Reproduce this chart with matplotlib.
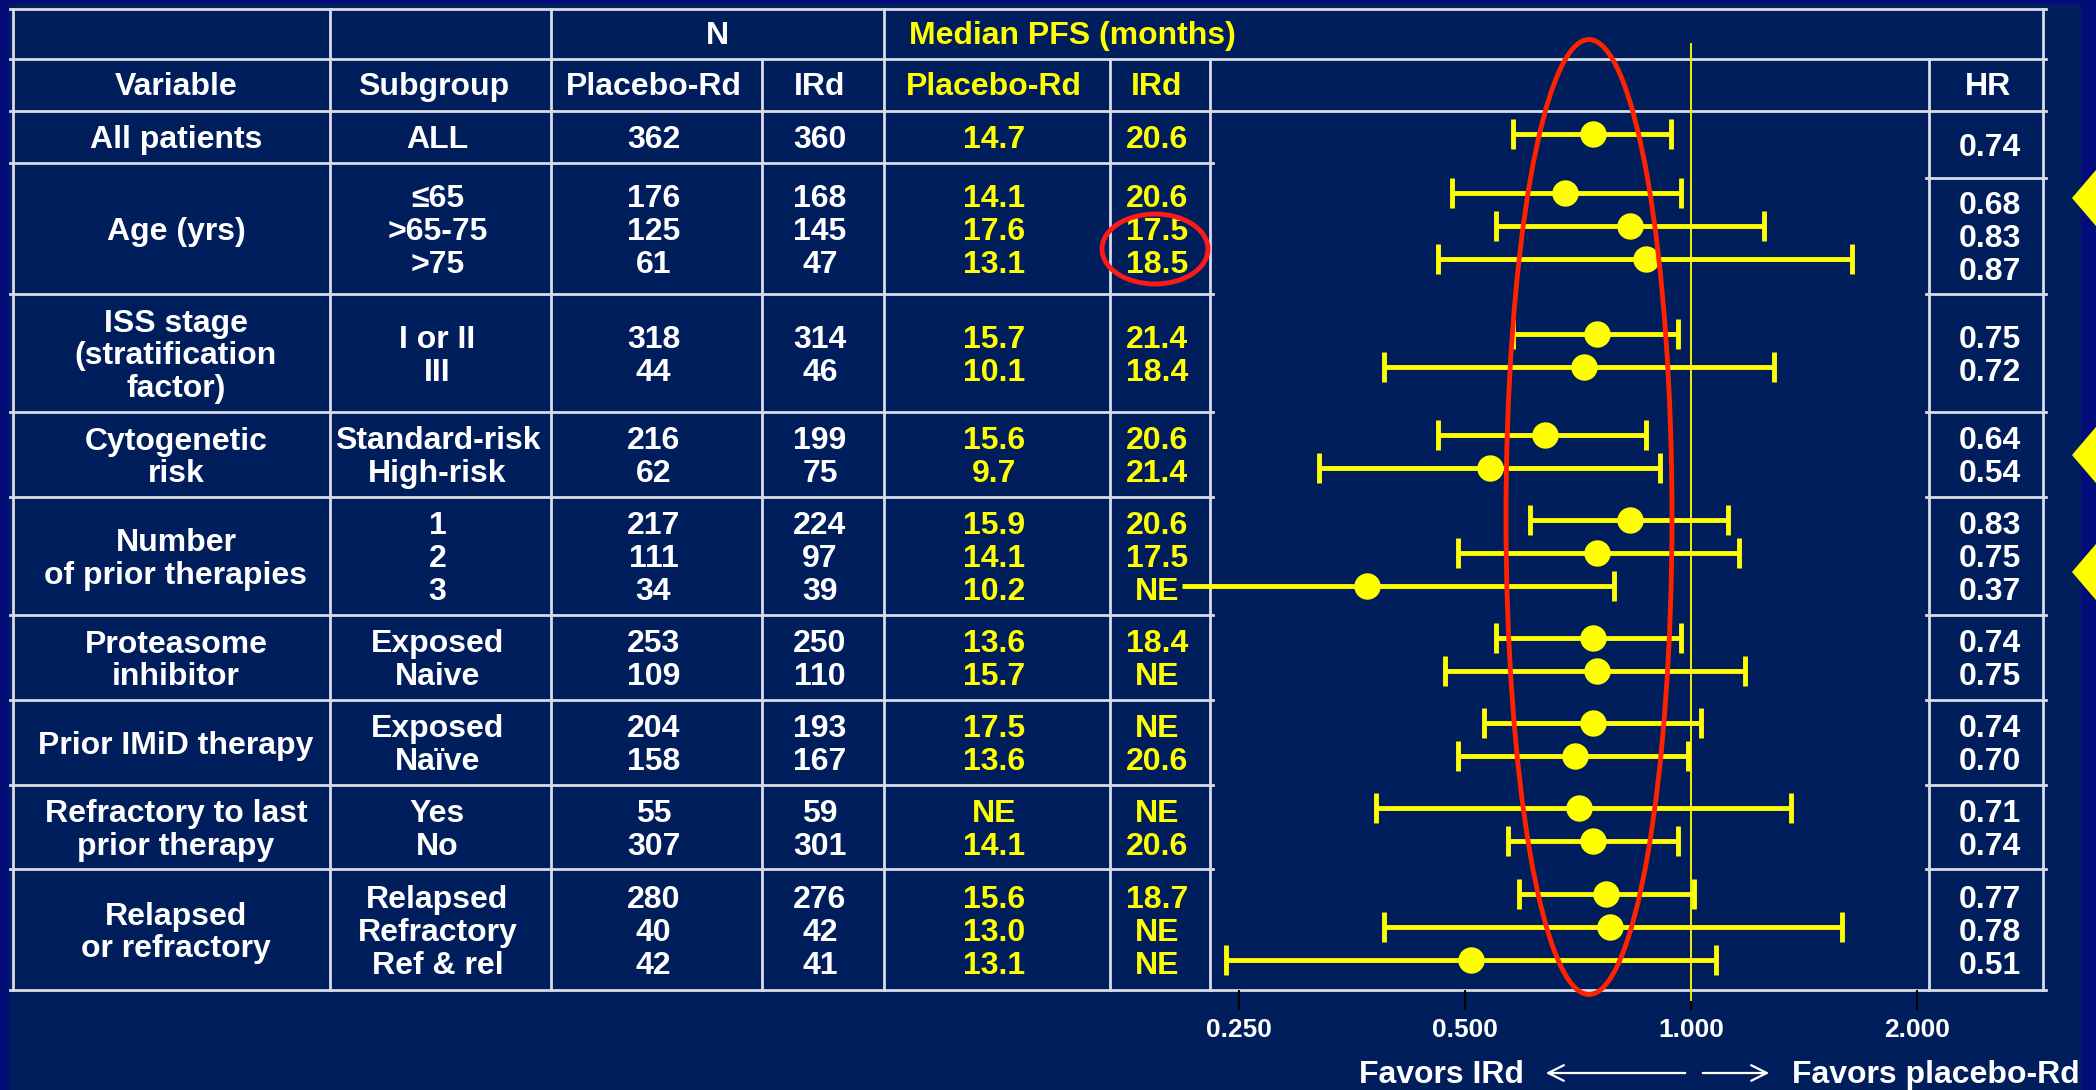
import numpy as np
import matplotlib
matplotlib.use("Agg")
import matplotlib.pyplot as plt
from matplotlib.patches import Rectangle, Ellipse, Polygon

plt.rcParams['font.family'] = ['Liberation Sans', 'DejaVu Sans']
plt.rcParams['font.weight'] = 'bold'

# subgroup table: one entry per variable, one inner item per subgroup row
variables = ['All patients', 'Age (yrs)', 'ISS stage\n(stratification\nfactor)',
             'Cytogenetic\nrisk', 'Number\nof prior therapies', 'Proteasome\ninhibitor',
             'Prior IMiD therapy', 'Refractory to last\nprior therapy', 'Relapsed\nor refractory']
subgroups = [['ALL'], ['≤65', '>65-75', '>75'], ['I or II', 'III'],
             ['Standard-risk', 'High-risk'], ['1', '2', '3'], ['Exposed', 'Naive'],
             ['Exposed', 'Naïve'], ['Yes', 'No'], ['Relapsed', 'Refractory', 'Ref & rel']]
n_placebo = [[362], [176, 125, 61], [318, 44], [216, 62], [217, 111, 34],
             [253, 109], [204, 158], [55, 307], [280, 40, 42]]
n_ird = [[360], [168, 145, 47], [314, 46], [199, 75], [224, 97, 39],
         [250, 110], [193, 167], [59, 301], [276, 42, 41]]
pfs_placebo = [['14.7'], ['14.1', '17.6', '13.1'], ['15.7', '10.1'], ['15.6', '9.7'],
               ['15.9', '14.1', '10.2'], ['13.6', '15.7'], ['17.5', '13.6'],
               ['NE', '14.1'], ['15.6', '13.0', '13.1']]
pfs_ird = [['20.6'], ['20.6', '17.5', '18.5'], ['21.4', '18.4'], ['20.6', '21.4'],
           ['20.6', '17.5', 'NE'], ['18.4', 'NE'], ['NE', '20.6'], ['NE', '20.6'],
           ['18.7', 'NE', 'NE']]
hr = [[0.74], [0.68, 0.83, 0.87], [0.75, 0.72], [0.64, 0.54], [0.83, 0.75, 0.37],
      [0.74, 0.75], [0.74, 0.70], [0.71, 0.74], [0.77, 0.78, 0.51]]
ci_low = [[0.58], [0.48, 0.55, 0.46], [0.58, 0.39], [0.46, 0.32], [0.61, 0.49, 0.21],
          [0.55, 0.47], [0.53, 0.49], [0.38, 0.57], [0.59, 0.39, 0.24]]
ci_high = [[0.94], [0.97, 1.25, 1.64], [0.96, 1.29], [0.87, 0.91], [1.12, 1.16, 0.79],
           [0.97, 1.18], [1.03, 0.99], [1.36, 0.96], [1.01, 1.59, 1.08]]
# lower limit not reached (no cap drawn)
open_low = [(4, 2)]
hr_ticks = [0.25, 0.5, 1.0, 2.0]
tick_labels = ['0.250', '0.500', '1.000', '2.000']

W, H = 2096, 1090
NAVY = '#020c7a'
PANEL = '#001e5b'
GRID = '#d9dbe6'
YEL = '#ffff00'
FS = 23

col_x = [13, 330, 551, 762, 884, 1110, 1210, 1929, 2043]
row_lines = [111, 163, 294, 412, 497, 615, 700, 785, 869, 990]
hr_lines = [111, 178, 294, 412, 497, 615, 700, 785, 869, 990]
step = 33
x0, px_per_doubling = 1691, 226

fig = plt.figure(figsize=(W / 100, H / 100), dpi=100, facecolor=NAVY)
ax = fig.add_axes([0, 0, 1, 1])
ax.set_xlim(0, W)
ax.set_ylim(H, 0)
ax.axis('off')
ax.add_patch(Rectangle((9, 4), 2072, H, fc=PANEL, ec='none', zorder=0))


def put(x, yc, s, color='white', size=FS, ha='center'):
    # yc is the visual middle of capitals; place the baseline below it
    ax.text(x, yc + 0.358 * size * 100 / 72, s, color=color, fontsize=size,
            ha=ha, va='baseline', zorder=4)


# grid
lw = 2.0
for x in [13, 330, 551, 884, 2043]:
    ax.plot([x, x], [9, 990], color=GRID, lw=lw, zorder=2)
for x in [762, 1110, 1210, 1929]:
    ax.plot([x, x], [59, 990], color=GRID, lw=lw, zorder=2)
for y in [9, 59, 111, 990]:
    ax.plot([10, 2046], [y, y], color=GRID, lw=lw, zorder=2)
for y in row_lines[1:-1]:
    ax.plot([10, 1213], [y, y], color=GRID, lw=lw, zorder=2)
for y in hr_lines[1:-1]:
    ax.plot([1926, 2046], [y, y], color=GRID, lw=lw, zorder=2)

centers = [(a + b) / 2 - 3 for a, b in zip(col_x[:-1], col_x[1:])]
_, c_sub, c_np, c_ni, c_pp, c_pi, _, _ = centers
c_var, c_hr = 176, 1990

# header
put((551 + 884) / 2, 33, 'N')
put(1072, 33, 'Median PFS (months)', color=YEL)
for cx, s, c in [(c_var, 'Variable', 'white'), (c_sub - 4, 'Subgroup', 'white'),
                 (c_np, 'Placebo-Rd', 'white'), (c_ni, 'IRd', 'white'),
                 (c_pp, 'Placebo-Rd', YEL), (c_pi, 'IRd', YEL), (c_hr - 2, 'HR', 'white')]:
    put(cx, 84, s, color=c)

# forest axes: log scale laid over the whole width so it lines up with the table
fy0, fy1 = 111, 990
ax_f = fig.add_axes([0, 1 - fy1 / H, 1, (fy1 - fy0) / H])
ax_f.set_xscale('log')
ax_f.set_xlim(2 ** ((0 - x0) / px_per_doubling), 2 ** ((W - x0) / px_per_doubling))
ax_f.set_ylim(fy1, fy0)
ax_f.patch.set_alpha(0)
for sp in ax_f.spines.values():
    sp.set_visible(False)
ax_f.set_yticks([])
ax_f.set_xticks(hr_ticks)
ax_f.set_xticklabels(tick_labels)
ax_f.minorticks_off()
ax_f.tick_params(axis='x', length=14.5, width=1.5, color='black', pad=6,
                 labelcolor='white', labelsize=19)

for g in range(len(variables)):
    top, bot = row_lines[g], row_lines[g + 1]
    gc = (top + bot) / 2
    n = len(subgroups[g])
    ys = [gc + (i - (n - 1) / 2) * step for i in range(n)]
    lab = variables[g].split('\n')
    for j, line in enumerate(lab):
        put(c_var, gc + (j - (len(lab) - 1) / 2) * 32.5, line)
    hc = (hr_lines[g] + hr_lines[g + 1]) / 2
    for i, y in enumerate(ys):
        put(c_sub, y, subgroups[g][i])
        put(c_np, y, str(n_placebo[g][i]))
        put(c_ni, y, str(n_ird[g][i]))
        put(c_pp, y, pfs_placebo[g][i], color=YEL)
        put(c_pi, y, pfs_ird[g][i], color=YEL)
        put(c_hr, hc + (i - (n - 1) / 2) * step, f'{hr[g][i]:.2f}')

        yp = y - 3
        lo, hi = ci_low[g][i], ci_high[g][i]
        ax_f.plot([lo, hi], [yp, yp], color=YEL, lw=3.5, solid_capstyle='butt',
                  clip_on=False, zorder=3)
        caps = [hi] if (g, i) in open_low else [lo, hi]
        ax_f.plot(caps, [yp] * len(caps), ls='none', marker='|', ms=21, mew=3.5,
                  color=YEL, clip_on=False, zorder=3)
        ax_f.plot([hr[g][i]], [yp], marker='o', ms=19, color=YEL, mec='none',
                  clip_on=False, zorder=4)

# line of no effect
ax_f.plot([1.0, 1.0], [44, 1000], color='#f0f000', lw=1.4, clip_on=False, zorder=2)

# direction labels
put(1524, 1072, 'Favors IRd', ha='right')
put(1792, 1072, 'Favors placebo-Rd', ha='left')
ax.annotate('', xy=(1543, 1073), xytext=(1688, 1073),
            arrowprops=dict(arrowstyle='->', color='white', lw=1.6, mutation_scale=28))
ax.annotate('', xy=(1772, 1073), xytext=(1700, 1073),
            arrowprops=dict(arrowstyle='->', color='white', lw=1.6, mutation_scale=28))

# highlight marks
for yc in [198, 455, 572]:
    ax.add_patch(Polygon([(2072, yc), (2125, yc - 62), (2125, yc + 62)],
                         closed=True, fc=YEL, ec='none', zorder=5))
fig.add_artist(Ellipse((1589, 517), 166, 955, fill=False, ec='#ff2200', lw=3.5,
                       transform=ax.transData, zorder=6))
fig.add_artist(Ellipse((1155, 249), 106, 70, fill=False, ec='#ff1a1a', lw=3.5,
                       transform=ax.transData, zorder=6))

fig.savefig('out.png', dpi=100, facecolor=NAVY)
